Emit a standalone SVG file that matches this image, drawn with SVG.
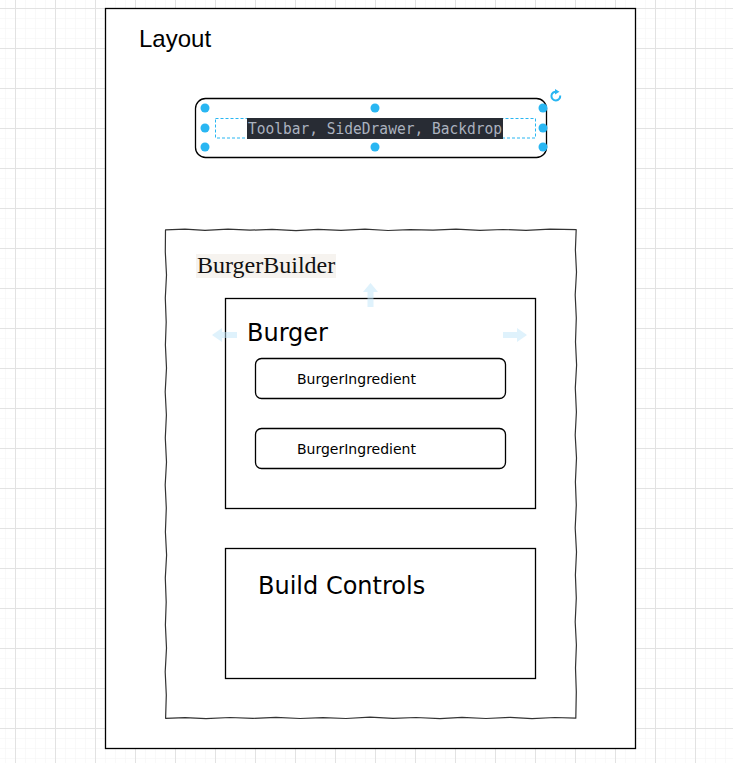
<svg xmlns="http://www.w3.org/2000/svg" width="733" height="763" viewBox="0 0 733 763">
  <defs>
    <pattern id="minor" width="10" height="10" patternUnits="userSpaceOnUse" x="5" y="8">
      <path d="M0 0H10M0 0V10" fill="none" stroke="#f4f4f4" stroke-width="1"/>
    </pattern>
    <pattern id="major" width="40" height="40" patternUnits="userSpaceOnUse" x="15" y="8">
      <path d="M0 0.5H40M0.5 0V40" fill="none" stroke="#e2e2e2" stroke-width="1"/>
    </pattern>
    <g id="handle"><circle r="4.5" fill="#29b6f2"/></g>
  </defs>
  <style>
    .box { fill: #fff; stroke: #000; stroke-width: 1.3; }
    .sans { font-family: "Liberation Sans", Arial, sans-serif; fill: #000; }
    .dv { font-family: "DejaVu Sans", Verdana, sans-serif; fill: #000; }
    .serif { font-family: "Liberation Serif", "Times New Roman", serif; fill: #111; }
    .mono { font-family: "DejaVu Sans Mono", "Liberation Mono", monospace; fill: #abb2bf; }
    .ghost { fill: #bfe6fa; opacity: 0.5; }
  </style>

  <!-- background grid -->
  <rect width="733" height="763" fill="#fff"/>
  <rect width="733" height="763" fill="url(#minor)"/>
  <rect width="733" height="763" fill="url(#major)"/>

  <!-- Layout -->
  <g id="layout">
    <rect class="box" x="105.5" y="8.5" width="530" height="740"/>
    <text class="sans" x="139" y="47" font-size="24">Layout</text>
  </g>

  <!-- Toolbar, SideDrawer, Backdrop (selected) -->
  <g id="toolbar">
    <rect class="box" x="195.5" y="98.5" width="351" height="59" rx="10"/>
    <rect x="215.5" y="118.5" width="320" height="19.5" fill="none" stroke="#29b6f2" stroke-dasharray="3 2"/>
    <rect x="247" y="118" width="256" height="21" fill="#282c34"/>
    <text class="mono" x="248" y="134" font-size="15" textLength="254" lengthAdjust="spacingAndGlyphs">Toolbar, SideDrawer, Backdrop</text>
    <use href="#handle" x="205" y="108"/>
    <use href="#handle" x="375" y="108"/>
    <use href="#handle" x="543" y="108"/>
    <use href="#handle" x="205" y="128"/>
    <use href="#handle" x="543" y="128"/>
    <use href="#handle" x="205" y="147"/>
    <use href="#handle" x="375" y="147"/>
    <use href="#handle" x="543" y="147"/>
    <!-- rotate handle -->
    <path d="M560.2 95.5 A4.4 4.4 0 1 1 556.5 91.7" fill="none" stroke="#29b6f2" stroke-width="2"/>
    <path d="M555 89 L559.5 91.8 L555 94.6 Z" fill="#29b6f2"/>
  </g>

  <!-- BurgerBuilder (sketch style) -->
  <g id="burger-builder">
    <path fill="#fff" stroke="#333" stroke-width="1.2" stroke-linejoin="round"
      d="M165.5 229.8 L185 229.2 L205 230.4 L228 229.1 L250 230.2 L272 229.3 L296 230.6 L318 229.4 L341 230.3 L365 229.2 L388 230.5 L410 229.6 L433 230.2 L456 229.1 L480 230.4 L503 229.5 L526 230.3 L550 229.2 L576.2 229.6
         L575.4 250 L576.5 272 L575.2 295 L576.3 318 L575.5 342 L576.6 365 L575.3 388 L576.4 412 L575.2 435 L576.5 458 L575.4 482 L576.3 505 L575.2 528 L576.5 552 L575.4 575 L576.3 598 L575.2 622 L576.4 645 L575.5 668 L576.3 692 L575.8 718.2
         L555 717.5 L532 718.6 L510 717.4 L486 718.5 L462 717.3 L440 718.6 L416 717.5 L393 718.4 L370 717.2 L346 718.5 L323 717.6 L300 718.5 L276 717.3 L253 718.4 L230 717.5 L206 718.6 L185 717.6 L165.6 718.3
         L166.3 695 L165.2 672 L166.5 648 L165.4 625 L166.2 602 L165.3 578 L166.6 555 L165.4 532 L166.3 508 L165.2 485 L166.5 462 L165.3 438 L166.4 415 L165.2 392 L166.5 368 L165.4 345 L166.2 322 L165.3 298 L166.5 275 L165.3 252 Z"/>
    <rect x="196" y="254" width="140" height="24" fill="#f6f3ef"/>
    <text class="serif" x="197" y="273" font-size="24">BurgerBuilder</text>
  </g>

  <!-- Burger -->
  <g id="burger">
    <rect class="box" x="225.5" y="298.5" width="310" height="210"/>
    <text class="dv" x="247" y="341" font-size="24">Burger</text>
  </g>

  <g id="ingredient-1">
    <rect class="box" x="255.5" y="358.5" width="250" height="40" rx="6"/>
    <text class="dv" x="297" y="384" font-size="14">BurgerIngredient</text>
  </g>

  <g id="ingredient-2">
    <rect class="box" x="255.5" y="428.5" width="250" height="40" rx="6"/>
    <text class="dv" x="297" y="454" font-size="14">BurgerIngredient</text>
  </g>

  <!-- Build Controls -->
  <g id="build-controls">
    <rect class="box" x="225.5" y="548.5" width="310" height="130"/>
    <text class="dv" x="258" y="594" font-size="24">Build Controls</text>
  </g>

  <!-- faint move hints around the selection -->
  <g id="move-hints">
    <path class="ghost" d="M370.5 283 L378 292 L373.5 292 L373.5 307 L367.5 307 L367.5 292 L363 292 Z"/>
    <path class="ghost" d="M212 335 L222 328 L222 332 L237 332 L237 338 L222 338 L222 342 Z"/>
    <path class="ghost" d="M527 335 L517 328 L517 332 L503 332 L503 338 L517 338 L517 342 Z"/>
  </g>

  <g id="connectors"/>
</svg>
